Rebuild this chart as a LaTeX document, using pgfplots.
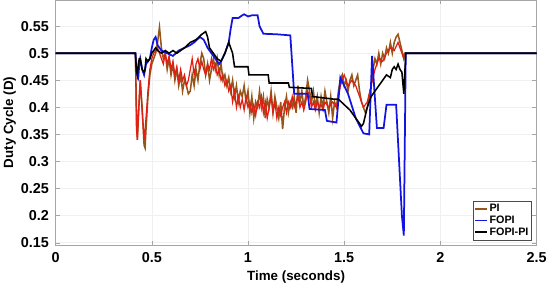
\documentclass[border=0pt]{standalone}
\usepackage{fontspec}
\setmainfont{Liberation Sans}
\usepackage{pgfplots}
\pgfplotsset{compat=1.18}
\definecolor{pibrown}{RGB}{150,85,25}
\definecolor{pired}{RGB}{225,30,20}
\definecolor{fopiblue}{RGB}{20,20,225}
\begin{document}
\begin{tikzpicture}
\begin{axis}[
  scale only axis,
  width=468pt, height=238pt,
  xmin=0, xmax=2.5, ymin=0.146, ymax=0.598,
  xtick={0,0.5,...,2.5}, ytick={0.15,0.2,...,0.56},
  ticklabel style={font=\bfseries\fontsize{14}{15}\selectfont},
  yticklabel style={xshift=-3pt, /pgf/number format/.cd,fixed,precision=2},
  xticklabel style={yshift=-4pt, /pgf/number format/.cd,fixed,precision=1},
  /pgf/number format/assume math mode=true,
  label style={font=\bfseries\fontsize{13}{15}\selectfont},
  xlabel={Time (seconds)}, ylabel={Duty Cycle (D)},
  xlabel style={yshift=-1pt}, ylabel style={yshift=-2pt},
  grid=major, major grid style={gray!12},
  axis line style={gray!70}, tick style={gray!70},
  tick align=inside, major tick length=4pt,
  legend pos=south east,
  legend style={font=\bfseries\fontsize{10.5}{11}\selectfont, draw=black!70, inner sep=1pt, row sep=-1.5pt,
    at={(0.99,0.02)}},
  legend cell align=left,
  legend image code/.code={\draw[#1] (0pt,0pt) -- (11pt,0pt);},
]
\addplot[pibrown, line width=1.5pt] coordinates {
(0,0.5) (0.415,0.5) (0.42,0.40) (0.425,0.34) (0.43,0.38) (0.44,0.45) (0.45,0.40) (0.46,0.33) (0.465,0.325)
(0.47,0.36) (0.48,0.42) (0.49,0.46) (0.50,0.48) (0.51,0.49) (0.52,0.50) (0.53,0.52) (0.54,0.548) (0.55,0.51)
(0.56,0.49) (0.57,0.50) (0.58,0.47) (0.59,0.49) (0.60,0.46) (0.61,0.48) (0.62,0.45) (0.63,0.47) (0.64,0.44)
(0.65,0.46) (0.66,0.43) (0.67,0.45) (0.68,0.44) (0.69,0.425) (0.70,0.43) (0.71,0.46) (0.72,0.44) (0.73,0.47)
(0.74,0.45) (0.75,0.48) (0.76,0.50) (0.77,0.49) (0.78,0.46) (0.79,0.48) (0.80,0.45) (0.81,0.47) (0.82,0.49)
(0.83,0.47) (0.84,0.49) (0.85,0.46) (0.86,0.48) (0.87,0.45) (0.88,0.46) (0.89,0.44) (0.90,0.455) (0.91,0.43)
(0.92,0.45) (0.93,0.42) (0.94,0.44) (0.95,0.41) (0.96,0.43) (0.97,0.42) (0.98,0.44) (0.99,0.41) (1.00,0.43)
(1.01,0.39) (1.02,0.42) (1.03,0.38) (1.04,0.41) (1.05,0.40) (1.06,0.43) (1.07,0.40) (1.08,0.42) (1.09,0.38)
(1.10,0.415) (1.11,0.40) (1.12,0.43) (1.13,0.39) (1.14,0.42) (1.15,0.40) (1.16,0.38) (1.17,0.41) (1.18,0.36)
(1.19,0.40) (1.20,0.42) (1.21,0.39) (1.22,0.41) (1.23,0.40) (1.24,0.42) (1.25,0.39) (1.26,0.44) (1.27,0.41)
(1.28,0.43) (1.29,0.40) (1.30,0.42) (1.31,0.45) (1.32,0.43) (1.33,0.41) (1.34,0.43) (1.35,0.40) (1.36,0.42)
(1.37,0.39) (1.38,0.42) (1.39,0.40) (1.40,0.43) (1.41,0.41) (1.42,0.39) (1.43,0.42) (1.44,0.38) (1.45,0.41)
(1.46,0.40) (1.47,0.43) (1.48,0.45) (1.49,0.46) (1.50,0.44) (1.51,0.45) (1.52,0.43) (1.53,0.45) (1.54,0.46)
(1.55,0.44) (1.56,0.45) (1.57,0.46) (1.58,0.43) (1.59,0.41) (1.60,0.40) (1.61,0.39) (1.62,0.40) (1.63,0.42)
(1.64,0.44) (1.65,0.47) (1.66,0.49) (1.67,0.48) (1.68,0.50) (1.69,0.48) (1.70,0.50) (1.71,0.49) (1.72,0.51)
(1.73,0.50) (1.74,0.52) (1.75,0.50) (1.76,0.52) (1.77,0.53) (1.78,0.535) (1.79,0.52) (1.80,0.505) (1.81,0.49)
(1.815,0.50) (2.5,0.5)};
\addlegendentry{PI}
\addplot[pired, line width=1.2pt, forget plot] coordinates {
(0.415,0.5) (0.42,0.36) (0.425,0.34) (0.435,0.42) (0.44,0.45) (0.45,0.39) (0.46,0.34) (0.47,0.38) (0.48,0.43)
(0.49,0.47) (0.50,0.49) (0.51,0.50) (0.52,0.505) (0.53,0.51) (0.54,0.50) (0.55,0.49) (0.56,0.48) (0.57,0.50)
(0.58,0.48) (0.59,0.495) (0.60,0.47) (0.61,0.485) (0.62,0.46) (0.63,0.475) (0.64,0.45) (0.65,0.47) (0.66,0.45)
(0.67,0.46) (0.68,0.44) (0.69,0.45) (0.70,0.47) (0.71,0.49) (0.72,0.46) (0.73,0.48) (0.74,0.49) (0.75,0.47)
(0.76,0.485) (0.77,0.47) (0.78,0.46) (0.79,0.48) (0.80,0.47) (0.81,0.49) (0.82,0.47) (0.83,0.48) (0.84,0.46)
(0.85,0.47) (0.86,0.45) (0.87,0.46) (0.88,0.44) (0.89,0.45) (0.90,0.43) (0.91,0.44) (0.92,0.41) (0.93,0.43)
(0.94,0.40) (0.95,0.42) (0.96,0.40) (0.97,0.415) (0.98,0.395) (0.99,0.42) (1.00,0.40) (1.01,0.41) (1.02,0.39)
(1.03,0.405) (1.04,0.385) (1.05,0.41) (1.06,0.40) (1.07,0.42) (1.08,0.39) (1.09,0.41) (1.10,0.38) (1.11,0.40)
(1.12,0.42) (1.13,0.39) (1.14,0.41) (1.15,0.38) (1.16,0.40) (1.17,0.385) (1.18,0.40) (1.19,0.41) (1.20,0.39)
(1.21,0.41) (1.22,0.40) (1.23,0.42) (1.24,0.40) (1.25,0.41) (1.26,0.42) (1.27,0.40) (1.28,0.41) (1.29,0.395)
(1.30,0.41) (1.31,0.43) (1.32,0.42) (1.33,0.40) (1.34,0.41) (1.35,0.395) (1.36,0.41) (1.37,0.40) (1.38,0.405)
(1.39,0.395) (1.40,0.41) (1.42,0.40) (1.44,0.41) (1.46,0.40) (1.48,0.44) (1.50,0.46) (1.52,0.44) (1.54,0.45)
(1.56,0.44) (1.58,0.42) (1.60,0.40) (1.62,0.41) (1.64,0.44) (1.66,0.47) (1.68,0.49) (1.70,0.485) (1.72,0.50)
(1.74,0.51) (1.76,0.505) (1.78,0.52) (1.80,0.50) (1.81,0.49)};
\addplot[fopiblue, line width=1.7pt] coordinates {
(0,0.5) (0.415,0.5) (0.42,0.465) (0.43,0.455) (0.435,0.48) (0.44,0.49) (0.45,0.47) (0.46,0.46) (0.47,0.48)
(0.48,0.485) (0.49,0.49) (0.50,0.51) (0.51,0.525) (0.52,0.53) (0.53,0.515) (0.55,0.505) (0.58,0.50) (0.61,0.495)
(0.64,0.505) (0.67,0.51) (0.70,0.515) (0.72,0.52) (0.75,0.53) (0.77,0.525) (0.79,0.51) (0.81,0.50) (0.83,0.49)
(0.85,0.48) (0.86,0.485) (0.88,0.50) (0.90,0.52) (0.91,0.545) (0.92,0.565) (0.95,0.565) (0.97,0.57) (0.98,0.572)
(1.00,0.568) (1.02,0.57) (1.05,0.57) (1.06,0.55) (1.08,0.536) (1.15,0.535) (1.22,0.533) (1.24,0.425) (1.31,0.425)
(1.32,0.397) (1.40,0.395) (1.41,0.375) (1.46,0.372) (1.48,0.455) (1.50,0.44) (1.52,0.425) (1.56,0.38) (1.60,0.352)
(1.63,0.35) (1.645,0.495) (1.67,0.362) (1.705,0.362) (1.72,0.405) (1.77,0.405) (1.80,0.20) (1.81,0.163) (1.82,0.50)
(2.5,0.5)};
\addlegendentry{FOPI}
\addplot[black, line width=1.5pt] coordinates {
(0,0.5) (0.415,0.5) (0.42,0.47) (0.425,0.46) (0.43,0.48) (0.435,0.49) (0.44,0.49) (0.45,0.47) (0.46,0.465)
(0.465,0.47) (0.47,0.49) (0.48,0.485) (0.49,0.49) (0.50,0.50) (0.51,0.505) (0.52,0.51) (0.53,0.505) (0.55,0.50)
(0.57,0.505) (0.59,0.50) (0.61,0.505) (0.63,0.50) (0.65,0.505) (0.67,0.51) (0.70,0.52) (0.73,0.525) (0.76,0.535)
(0.78,0.54) (0.79,0.53) (0.80,0.51) (0.82,0.50) (0.84,0.49) (0.86,0.485) (0.88,0.50) (0.90,0.52) (0.92,0.50)
(0.93,0.475) (1.00,0.475) (1.005,0.46) (1.105,0.46) (1.11,0.445) (1.21,0.445) (1.215,0.437) (1.33,0.435)
(1.335,0.42) (1.45,0.415) (1.47,0.415) (1.50,0.405) (1.53,0.395) (1.56,0.38) (1.59,0.365) (1.60,0.37) (1.62,0.40)
(1.64,0.42) (1.66,0.43) (1.68,0.44) (1.70,0.45) (1.72,0.46) (1.74,0.455) (1.75,0.47) (1.76,0.475) (1.77,0.47)
(1.78,0.48) (1.79,0.47) (1.80,0.465) (1.81,0.425) (1.82,0.50) (2.5,0.5)};
\addlegendentry{FOPI-PI}
\end{axis}
\end{tikzpicture}
\end{document}
